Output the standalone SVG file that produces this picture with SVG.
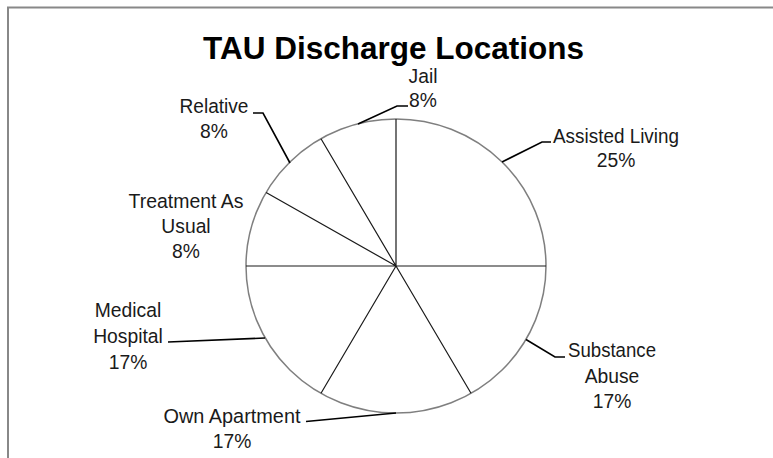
<svg xmlns="http://www.w3.org/2000/svg" width="773" height="458" viewBox="0 0 773 458">
<style>
.lbl{font-family:"Liberation Sans","Open Sans",Arial,sans-serif;font-size:19.3px;fill:#1a1a1a;text-anchor:middle}
.ttl{font-family:"Liberation Sans","Open Sans",Arial,sans-serif;font-size:32px;font-weight:bold;fill:#000}
.slice{fill:#fff;stroke:none}
.radius{stroke:#1a1a1a;stroke-width:1.2;fill:none}
.rim{stroke:#7f7f7f;stroke-width:1.5;fill:none}
.leader{stroke:#000;stroke-width:1.6;fill:none}
</style>
<rect x="0" y="0" width="773" height="458" fill="#fff"/>
<rect x="8" y="7.5" width="800" height="500" fill="#fff" stroke="#888" stroke-width="2"/>
<text class="ttl" x="203" y="59" textLength="381" lengthAdjust="spacingAndGlyphs">TAU Discharge Locations</text>

<g id="slice-assisted-living">
<path class="slice" d="M396,266 L396,119 A150,147 0 0 1 546,266 Z"/>
<text class="lbl" x="616" y="143" textLength="126" lengthAdjust="spacingAndGlyphs">Assisted Living</text>
<text class="lbl" x="616" y="167">25%</text>
</g>
<g id="slice-substance-abuse">
<path class="slice" d="M396,266 L546,266 A150,147 0 0 1 471,393.3 Z"/>
<text class="lbl" x="612" y="357" textLength="88" lengthAdjust="spacingAndGlyphs">Substance</text>
<text class="lbl" x="612" y="383">Abuse</text>
<text class="lbl" x="612" y="408">17%</text>
</g>
<g id="slice-own-apartment">
<path class="slice" d="M396,266 L471,393.3 A150,147 0 0 1 321,393.3 Z"/>
<text class="lbl" x="232" y="423" textLength="137" lengthAdjust="spacingAndGlyphs">Own Apartment</text>
<text class="lbl" x="232" y="448">17%</text>
</g>
<g id="slice-medical-hospital">
<path class="slice" d="M396,266 L321,393.3 A150,147 0 0 1 246,266 Z"/>
<text class="lbl" x="128" y="317">Medical</text>
<text class="lbl" x="128" y="343">Hospital</text>
<text class="lbl" x="128" y="369">17%</text>
</g>
<g id="slice-treatment-as-usual">
<path class="slice" d="M396,266 L246,266 A150,147 0 0 1 266.1,192.5 Z"/>
<text class="lbl" x="186" y="208" textLength="115" lengthAdjust="spacingAndGlyphs">Treatment As</text>
<text class="lbl" x="186" y="233">Usual</text>
<text class="lbl" x="186" y="258">8%</text>
</g>
<g id="slice-relative">
<path class="slice" d="M396,266 L266.1,192.5 A150,147 0 0 1 321,138.7 Z"/>
<text class="lbl" x="214" y="113" textLength="69" lengthAdjust="spacingAndGlyphs">Relative</text>
<text class="lbl" x="214" y="138">8%</text>
</g>
<g id="slice-jail">
<path class="slice" d="M396,266 L321,138.7 A150,147 0 0 1 396,119 Z"/>
<text class="lbl" x="423" y="83">Jail</text>
<text class="lbl" x="423" y="107">8%</text>
</g>

<g id="pie-lines">
<ellipse class="rim" cx="396" cy="266" rx="150" ry="147"/>
<path class="radius" d="M396,266 L396,119 M396,266 L546,266 M396,266 L471,393.3 M396,266 L321,393.3 M396,266 L246,266 M396,266 L266.1,192.5 M396,266 L321,138.7"/>
</g>

<g id="connectors">
<polyline class="leader" points="551,142 542,142 502,162"/>
<polyline class="leader" points="565,357 555,357 526,339.5"/>
<polyline class="leader" points="306,421.5 396,413"/>
<polyline class="leader" points="168,342 265,338"/>
<polyline class="leader" points="253,113 263,113 290,163"/>
<polyline class="leader" points="408,106 397,106 358,124"/>
</g>
</svg>
